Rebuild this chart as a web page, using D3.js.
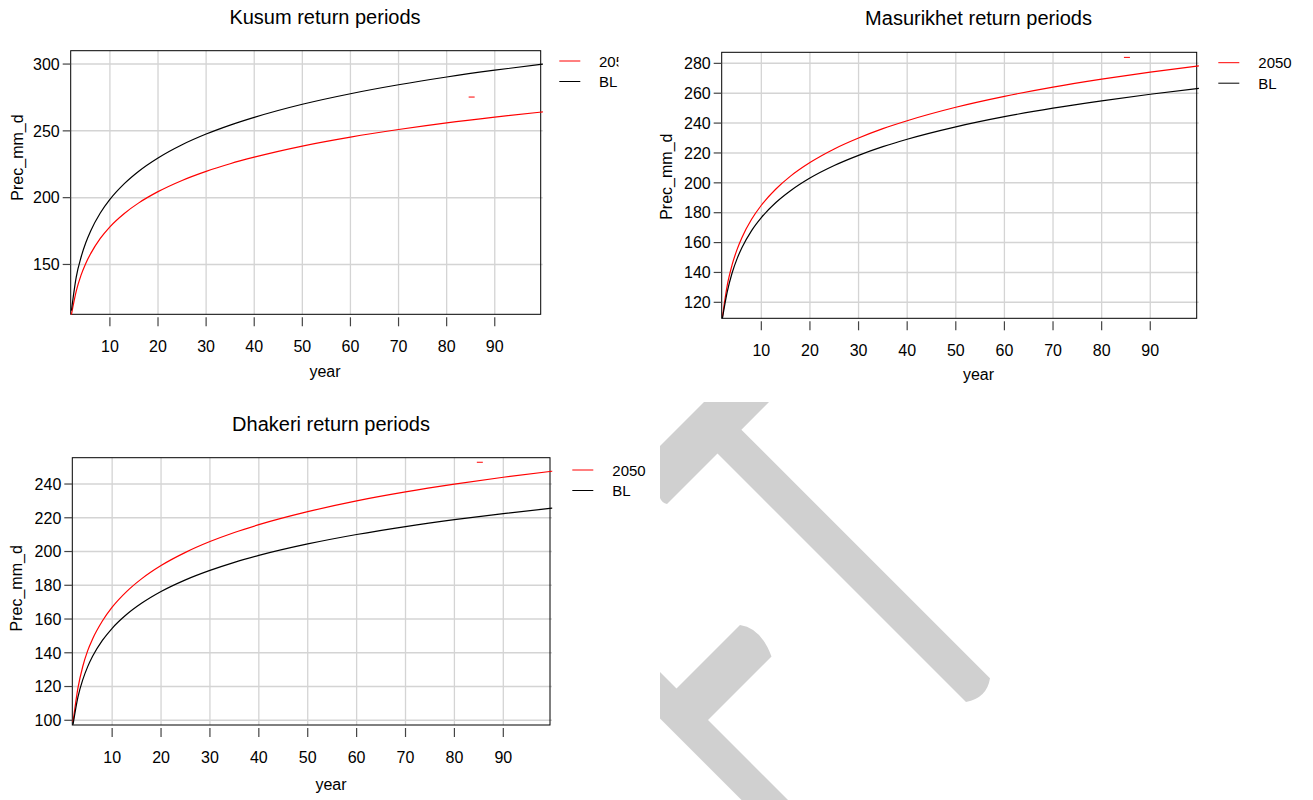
<!DOCTYPE html>
<html>
<head>
<meta charset="utf-8">
<script src="https://cdn.jsdelivr.net/npm/d3@7"></script>
<style>
  body { margin: 0; background: #fff; }
  text { font-family: "Liberation Sans", Arial, sans-serif; fill: #000; }
</style>
</head>
<body>
<div id="chart"></div>
<script>
// return periods (years) and values
var returnPeriod = [2, 3, 4, 5, 6, 8, 10, 13, 16, 20, 25, 30, 35, 40, 50, 60, 70, 80, 90, 100];

var kusum2050 = [112.5, 130, 142, 151, 158.1, 169.5, 178.2, 188.2, 196.1, 204.5, 212.9, 219.7, 225.4, 230.3, 238.6, 245.3, 251.0, 256.0, 260.3, 264.2];
var kusumBL   = [115.5, 140.6, 155.4, 166.4, 175.1, 188.5, 198.7, 210.5, 219.8, 229.7, 239.6, 247.6, 254.3, 260.1, 269.9, 277.8, 284.5, 290.3, 295.4, 300.0];

var masurikhet2050 = [110.3, 131.5, 145.2, 155.3, 163.3, 175.6, 185.0, 195.9, 204.5, 213.6, 222.7, 230.0, 236.3, 241.6, 250.6, 257.9, 264.1, 269.4, 274.1, 278.3];
var masurikhetBL   = [109.3, 127.1, 139.8, 149.1, 156.5, 168.0, 176.7, 186.8, 194.7, 203.2, 211.6, 218.4, 224.2, 229.2, 237.5, 244.3, 250.0, 254.9, 259.3, 263.2];

var dhakeri2050 = [99, 119, 132, 141.3, 148.2, 158.8, 167.0, 176.4, 183.8, 191.7, 199.5, 205.9, 211.3, 215.9, 223.6, 230.0, 235.3, 239.9, 244.0, 247.6];
var dhakeriBL   = [97.4, 113.7, 124.1, 131.8, 137.9, 147.3, 154.5, 162.8, 169.3, 176.3, 183.2, 188.8, 193.6, 197.7, 204.5, 210.1, 214.8, 218.9, 222.5, 225.7];

var seriesNames = ["2050", "BL"];
var seriesColors = ["#ff0000", "#000000"];
var xTicks = [10, 20, 30, 40, 50, 60, 70, 80, 90];
var kusumTicks = [150, 200, 250, 300];
var masurikhetTicks = [120, 140, 160, 180, 200, 220, 240, 260, 280];
var dhakeriTicks = [100, 120, 140, 160, 180, 200, 220, 240];
// small red stray dash seen in each panel (year, value)
var strayYear = 85.2;
var strayValue = [275.3, 284, 252.9];

var panels = [
  { title: "Kusum return periods", s2050: kusum2050, sBL: kusumBL, ticks: kusumTicks,
    yDomain: [112.7, 310], left: 70.7, right: 540.7, top: 50.7, bottom: 314.3,
    cx: 325, titleY: 24, yLabX: 23, yLabY: 157.5, xLabY: 377,
    legLineX: 559.3, legTextX: 599, legY: 61, clipRight: 618.5 },
  { title: "Masurikhet return periods", s2050: masurikhet2050, sBL: masurikhetBL, ticks: masurikhetTicks,
    yDomain: [109.3, 287.4], left: 721.7, right: 1196.7, top: 52.3, bottom: 318.3,
    cx: 978.5, titleY: 25, yLabX: 672, yLabY: 176.7, xLabY: 380,
    legLineX: 1218.3, legTextX: 1258.3, legY: 62.7, clipRight: 1313 },
  { title: "Dhakeri return periods", s2050: dhakeri2050, sBL: dhakeriBL, ticks: dhakeriTicks,
    yDomain: [97.2, 255.6], left: 72.3, right: 550, top: 457.7, bottom: 725,
    cx: 331, titleY: 430.7, yLabX: 22, yLabY: 588.3, xLabY: 790,
    legLineX: 572.3, legTextX: 612.3, legY: 470, clipRight: 1313 }
];

var svgWidth = 1313;
var svgHeight = 800;

var svg = d3.select("#chart")
  .append("svg")
  .attr("width", svgWidth)
  .attr("height", svgHeight);

svg.append("rect").attr("width", svgWidth).attr("height", svgHeight).attr("fill", "#fff");

// grey watermark shapes in the empty lower right corner
var wm = svg.append("g").attr("fill", "#d0d0d0");
wm.append("path")
  .attr("d", "M660,446 L704,402 L769,402 L741.4,429.7 L990,678.3 Q987,698 966,702 L717.5,453.5 L667,504 Q662,503 660,498 Z");
wm.append("path")
  .attr("d", "M660,672 L676.5,688.5 L740,625 Q761,628 771.5,656.5 L708,720 L788,800 L741.5,800 L660,718.5 Z");

panels.forEach(function(p, i) {
  var x = d3.scaleLinear().domain([1.85, 99.55]).range([p.left, p.right]);
  var y = d3.scaleLinear().domain(p.yDomain).range([p.bottom, p.top]);
  var g = svg.append("g");

  // grid
  g.selectAll(".vgrid").data(xTicks).enter().append("line")
    .attr("x1", d => x(d)).attr("x2", d => x(d))
    .attr("y1", p.top).attr("y2", p.bottom)
    .attr("stroke", "#d4d4d4").attr("stroke-width", 1.3);
  g.selectAll(".hgrid").data(p.ticks).enter().append("line")
    .attr("x1", p.left).attr("x2", p.right + 2)
    .attr("y1", d => y(d)).attr("y2", d => y(d))
    .attr("stroke", "#d4d4d4").attr("stroke-width", 1.5);

  g.append("rect")
    .attr("x", p.left).attr("y", p.top)
    .attr("width", p.right - p.left).attr("height", p.bottom - p.top)
    .attr("fill", "none").attr("stroke", "#000").attr("stroke-width", 1);

  // x axis ticks + labels
  g.selectAll(".xtick").data(xTicks).enter().append("line")
    .attr("x1", d => x(d)).attr("x2", d => x(d))
    .attr("y1", p.bottom + 3).attr("y2", p.bottom + 12)
    .attr("stroke", "#444").attr("stroke-width", 1.2);
  g.selectAll(".xlab").data(xTicks).enter().append("text")
    .attr("x", d => x(d)).attr("y", p.bottom + 38)
    .attr("text-anchor", "middle").attr("font-size", "16px")
    .text(d => d);

  // y axis ticks + labels
  g.selectAll(".ytick").data(p.ticks).enter().append("line")
    .attr("x1", p.left - 8).attr("x2", p.left)
    .attr("y1", d => y(d)).attr("y2", d => y(d))
    .attr("stroke", "#444").attr("stroke-width", 1.2);
  g.selectAll(".ylab").data(p.ticks).enter().append("text")
    .attr("x", p.left - 11).attr("y", d => y(d))
    .attr("dy", "0.36em")
    .attr("text-anchor", "end").attr("font-size", "16px")
    .text(d => d);

  // curves
  var line = d3.line()
    .x(d => x(d[0]))
    .y(d => y(d[1]))
    .curve(d3.curveMonotoneX);
  [p.s2050, p.sBL].forEach(function(vals, k) {
    g.append("path")
      .datum(returnPeriod.map((t, j) => [t, vals[j]]))
      .attr("fill", "none")
      .attr("stroke", seriesColors[k])
      .attr("stroke-width", 1.2)
      .attr("d", line);
  });

  g.append("line")
    .attr("x1", x(strayYear) - 3).attr("x2", x(strayYear) + 3)
    .attr("y1", y(strayValue[i])).attr("y2", y(strayValue[i]))
    .attr("stroke", "#ff0000").attr("stroke-width", 1);

  // titles and axis labels
  g.append("text")
    .attr("x", p.cx).attr("y", p.titleY)
    .attr("text-anchor", "middle").attr("font-size", "20px")
    .text(p.title);
  g.append("text")
    .attr("x", p.cx).attr("y", p.xLabY)
    .attr("text-anchor", "middle").attr("font-size", "16px")
    .text("year");
  g.append("text")
    .attr("transform", `translate(${p.yLabX}, ${p.yLabY}) rotate(-90)`)
    .attr("text-anchor", "middle").attr("font-size", "16px")
    .text("Prec_mm_d");

  // legend
  var clipId = "legclip" + i;
  svg.append("clipPath").attr("id", clipId)
    .append("rect").attr("x", p.right).attr("y", p.top - 20)
    .attr("width", p.clipRight - p.right).attr("height", 80);
  var leg = g.append("g").attr("clip-path", `url(#${clipId})`);
  seriesNames.forEach(function(name, k) {
    var ly = p.legY + k * 20.5;
    leg.append("line")
      .attr("x1", p.legLineX).attr("x2", p.legLineX + 21)
      .attr("y1", ly).attr("y2", ly)
      .attr("stroke", seriesColors[k]).attr("stroke-width", 1);
    leg.append("text")
      .attr("x", p.legTextX).attr("y", ly + 5.5)
      .attr("font-size", "15px")
      .text(name);
  });
});
</script>
</body>
</html>
